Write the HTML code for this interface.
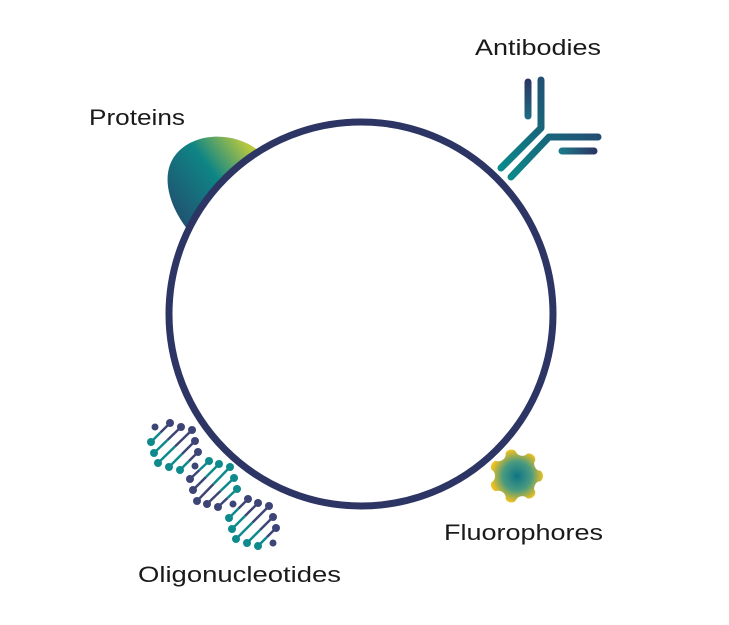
<!DOCTYPE html>
<html><head><style>
html,body{margin:0;padding:0;background:#fff;}
svg{display:block}
text{font-family:"Liberation Sans",sans-serif;font-size:22px;fill:#1a1a1a;}
</style></head><body>
<svg width="729" height="625" viewBox="0 0 729 625" xmlns="http://www.w3.org/2000/svg">
<defs>
<linearGradient id="ab" gradientUnits="userSpaceOnUse" x1="505" y1="175" x2="600" y2="90">
<stop offset="0" stop-color="#0a8a8a"/><stop offset="1" stop-color="#2b3a6a"/></linearGradient>
<linearGradient id="abv" gradientUnits="userSpaceOnUse" x1="0" y1="80" x2="0" y2="118">
<stop offset="0" stop-color="#2b3565"/><stop offset="1" stop-color="#1f6a80"/></linearGradient>
<linearGradient id="abh" gradientUnits="userSpaceOnUse" x1="560" y1="0" x2="596" y2="0">
<stop offset="0" stop-color="#1d7a88"/><stop offset="1" stop-color="#2b3565"/></linearGradient>
<linearGradient id="pr" x1="0" y1="1" x2="1" y2="0">
<stop offset="0" stop-color="#2b3565"/><stop offset="0.6" stop-color="#0e8585"/><stop offset="0.9" stop-color="#b8c840"/></linearGradient>
<radialGradient id="fl" cx="0.5" cy="0.5" r="0.5">
<stop offset="0" stop-color="#0e7585"/><stop offset="0.55" stop-color="#4a9a80"/><stop offset="1" stop-color="#f0c020"/></radialGradient>
</defs>
<text x="475" y="55" textLength="126" lengthAdjust="spacingAndGlyphs">Antibodies</text>
<text x="89" y="125" textLength="96" lengthAdjust="spacingAndGlyphs">Proteins</text>
<text x="444" y="540" textLength="159" lengthAdjust="spacingAndGlyphs">Fluorophores</text>
<text x="138" y="582" textLength="203" lengthAdjust="spacingAndGlyphs">Oligonucleotides</text>

<path d="M188,230 C168,205 158,170 180,150 C202,130 240,134 260,152 L240,260 Z" fill="url(#pr)"/>

<g fill="none" stroke-width="7" stroke-linecap="round">
<line x1="528" y1="82" x2="528" y2="116" stroke="url(#abv)"/>
<polyline points="541,80 541,128 501,168" stroke="url(#ab)" stroke-linejoin="round"/>
<polyline points="598,137 549,137 511,177" stroke="url(#ab)" stroke-linejoin="round"/>
<line x1="562" y1="151" x2="594" y2="151" stroke="url(#abh)"/>
</g>

<path id="gear" fill="url(#fl)" d=""/>
<circle cx="361" cy="314" r="192" fill="#fff" stroke="#2c3563" stroke-width="7"/>

<g id="dna" stroke-width="2.5"></g>
</svg>
<script>
(function(){var cx=516,cy=476,n=7,pts=[];for(var i=0;i<=360;i+=3){var a=i*Math.PI/180;var c=Math.cos(n*a);var r=24+3*(c>0?Math.pow(c,0.5):-Math.pow(-c,0.5));pts.push((cx+r*Math.cos(a)).toFixed(1)+','+(cy+r*Math.sin(a)).toFixed(1));}
document.getElementById('gear').setAttribute('d','M'+pts.join('L')+'Z');})();
(function(){
var T='#0f8a8c',N='#3d4577';
var segs=[
 {lo:[[151,442],[154,453],[158,463],[169,467],[180,470]],up:[[170,423],[181,427],[192,430],[195,441],[198,452]],cl:T,cu:N,lone:[[155,427]]},
 {lo:[[190,479],[193,490],[197,501],[207,504],[218,507]],up:[[209,461],[219,464],[230,467],[234,478],[237,489]],cl:N,cu:T,lone:[[195,466],[233,504]]},
 {lo:[[229,518],[232,529],[236,539],[247,543],[258,546]],up:[[248,499],[258,503],[269,506],[273,517],[276,528]],cl:T,cu:N,lone:[[273,543]]}
];
var g=document.getElementById('dna'),s='';
segs.forEach(function(sg){for(var i=0;i<5;i++){var a=sg.lo[i],b=sg.up[i],m=[(a[0]+b[0])/2,(a[1]+b[1])/2];
s+='<line x1="'+a[0]+'" y1="'+a[1]+'" x2="'+m[0]+'" y2="'+m[1]+'" stroke="'+sg.cl+'"/>';
s+='<line x1="'+m[0]+'" y1="'+m[1]+'" x2="'+b[0]+'" y2="'+b[1]+'" stroke="'+sg.cu+'"/>';
s+='<circle cx="'+a[0]+'" cy="'+a[1]+'" r="4" fill="'+sg.cl+'"/>';
s+='<circle cx="'+b[0]+'" cy="'+b[1]+'" r="4" fill="'+sg.cu+'"/>';}
sg.lone.forEach(function(p){s+='<circle cx="'+p[0]+'" cy="'+p[1]+'" r="3.5" fill="'+N+'"/>';});});
g.innerHTML=s;})();
</script>
</body></html>
